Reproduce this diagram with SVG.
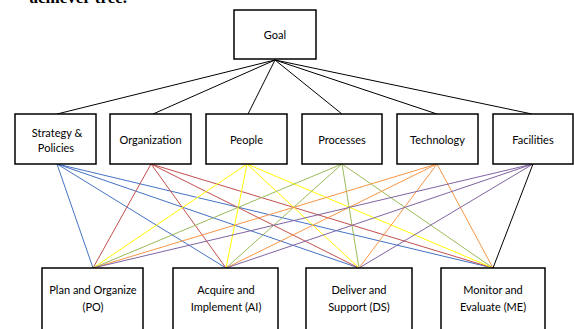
<svg xmlns="http://www.w3.org/2000/svg" width="574" height="329" viewBox="0 0 574 329">
<style>
.box{fill:#fff;stroke:#000;stroke-width:1.5}
.t{font-family:Lato,"Liberation Sans",sans-serif;font-size:11px;fill:#000;text-anchor:middle}
.k{stroke:#000;stroke-width:1;fill:none}
.b{stroke:#4472C4;stroke-width:1}
.r{stroke:#C0504D;stroke-width:1}
.y{stroke:#FFFF00;stroke-width:1}
.g{stroke:#9BBB59;stroke-width:1}
.o{stroke:#F79646;stroke-width:1}
.p{stroke:#8064A2;stroke-width:1}
</style>
<rect width="574" height="329" fill="#fff"/>
<text x="127" y="3" text-anchor="end" font-family="Liberation Serif,serif" font-size="17" font-weight="bold">achiever tree.</text>
<g id="connectors">
<line class="k" x1="275" y1="60" x2="57" y2="114"/>
<line class="k" x1="275" y1="60" x2="153" y2="114"/>
<line class="k" x1="275" y1="60" x2="248" y2="114"/>
<line class="k" x1="275" y1="60" x2="342" y2="114"/>
<line class="k" x1="275" y1="60" x2="437" y2="114"/>
<line class="k" x1="275" y1="60" x2="532" y2="114"/>
<line class="b" x1="57" y1="164" x2="93" y2="268"/>
<line class="b" x1="57" y1="164" x2="226" y2="268"/>
<line class="b" x1="57" y1="164" x2="359" y2="268"/>
<line class="b" x1="57" y1="164" x2="493" y2="268"/>
<line class="r" x1="151" y1="164" x2="93" y2="268"/>
<line class="r" x1="151" y1="164" x2="226" y2="268"/>
<line class="r" x1="151" y1="164" x2="359" y2="268"/>
<line class="r" x1="151" y1="164" x2="493" y2="268"/>
<line class="y" x1="247" y1="164" x2="93" y2="268"/>
<line class="y" x1="247" y1="164" x2="226" y2="268"/>
<line class="y" x1="247" y1="164" x2="359" y2="268"/>
<line class="y" x1="247" y1="164" x2="493" y2="268"/>
<line class="g" x1="342" y1="164" x2="93" y2="268"/>
<line class="g" x1="342" y1="164" x2="226" y2="268"/>
<line class="g" x1="342" y1="164" x2="359" y2="268"/>
<line class="g" x1="342" y1="164" x2="493" y2="268"/>
<line class="o" x1="437" y1="164" x2="93" y2="268"/>
<line class="o" x1="437" y1="164" x2="226" y2="268"/>
<line class="o" x1="437" y1="164" x2="359" y2="268"/>
<line class="o" x1="437" y1="164" x2="493" y2="268"/>
<line class="p" x1="533" y1="164" x2="93" y2="268"/>
<line class="p" x1="533" y1="164" x2="226" y2="268"/>
<line class="p" x1="533" y1="164" x2="359" y2="268"/>
<line class="k" x1="533" y1="164" x2="493" y2="268"/>
</g>
<g id="goal"><rect class="box" x="234" y="10" width="82" height="49"/><text class="t" x="275" y="39">Goal</text></g>
<g id="strategy"><rect class="box" x="15" y="114" width="81" height="50"/><text class="t" x="57" y="137">Strategy &amp; </text><text class="t" x="56" y="152">Policies</text></g>
<g id="organization"><rect class="box" x="110" y="114" width="81" height="50"/><text class="t" x="150.5" y="144">Organization</text></g>
<g id="people"><rect class="box" x="206" y="114" width="81" height="50"/><text class="t" x="246.5" y="144">People</text></g>
<g id="processes"><rect class="box" x="302" y="114" width="80" height="50"/><text class="t" x="342" y="144">Processes</text></g>
<g id="technology"><rect class="box" x="397" y="114" width="81" height="50"/><text class="t" x="437.5" y="144">Technology</text></g>
<g id="facilities"><rect class="box" x="493" y="114" width="80" height="50"/><text class="t" x="533" y="144">Facilities</text></g>
<g id="po"><rect class="box" x="42" y="268" width="101" height="64"/><text class="t" x="93" y="294">Plan and Organize </text><text class="t" x="93" y="311">(PO)</text></g>
<g id="ai"><rect class="box" x="173" y="268" width="105" height="64"/><text class="t" x="226" y="294">Acquire and </text><text class="t" x="226" y="311">Implement (AI)</text></g>
<g id="ds"><rect class="box" x="306" y="268" width="106" height="64"/><text class="t" x="359" y="294">Deliver and </text><text class="t" x="359" y="311">Support (DS)</text></g>
<g id="me"><rect class="box" x="441" y="268" width="104" height="64"/><text class="t" x="493" y="294">Monitor and </text><text class="t" x="493" y="311">Evaluate (ME)</text></g>
</svg>
